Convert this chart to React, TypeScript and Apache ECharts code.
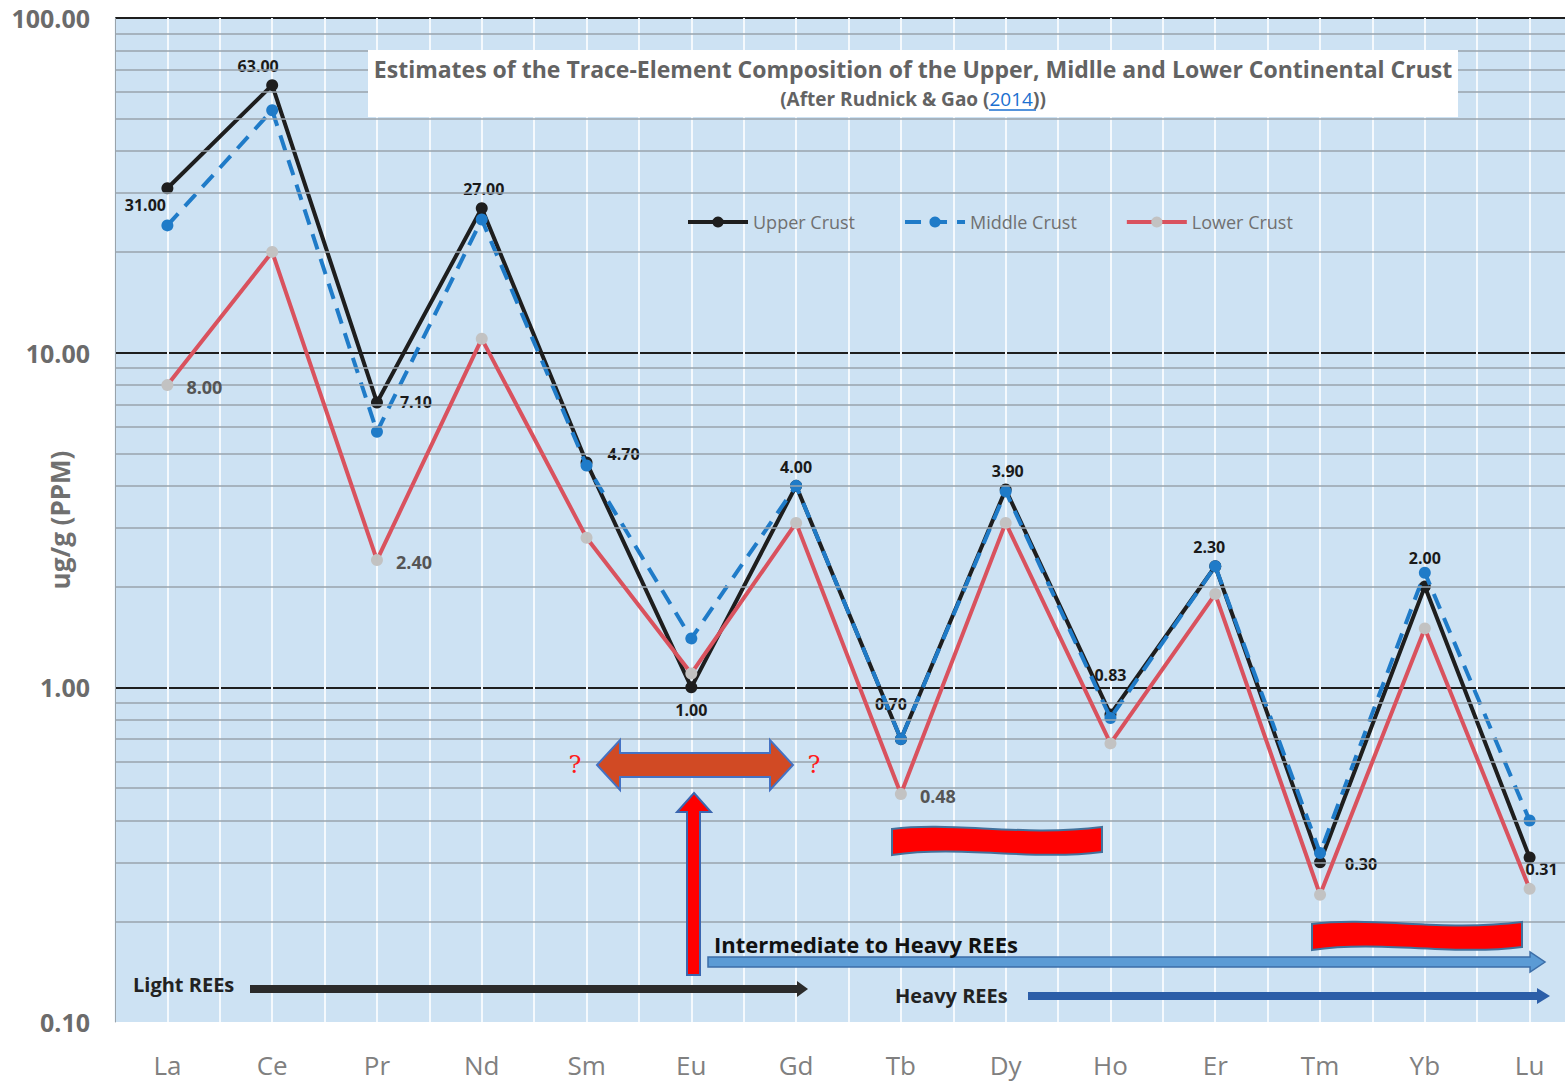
import React, { useEffect, useRef } from "react";
import * as echarts from "echarts";

const elements = ["La", "Ce", "Pr", "Nd", "Sm", "Eu", "Gd", "Tb", "Dy", "Ho", "Er", "Tm", "Yb", "Lu"];
const upperCrust = [31, 63, 7.1, 27, 4.7, 1.0, 4.0, 0.7, 3.9, 0.83, 2.3, 0.3, 2.0, 0.31];
const middleCrust = [24, 53, 5.8, 25, 4.6, 1.4, 4.0, 0.7, 3.85, 0.81, 2.3, 0.32, 2.2, 0.4];
const lowerCrust = [8, 20, 2.4, 11, 2.8, 1.1, 3.1, 0.48, 3.1, 0.68, 1.9, 0.24, 1.5, 0.25];
const lowerLabelled = [true, false, true, false, false, false, false, true, false, false, false, false, false, false];
const minorGridValues = [0.2, 0.3, 0.4, 0.5, 0.6, 0.7, 0.8, 0.9, 2, 3, 4, 5, 6, 7, 8, 9, 20, 30, 40, 50, 60, 70, 80, 90];

// label placement (style only)
const upperLabelPos: [string, number[]][] = [
  ["bottom", [-22, -2]],
  ["top", [-14, 0]],
  ["right", [12, 0]],
  ["top", [2, 0]],
  ["right", [10, -8]],
  ["bottom", [0, 4]],
  ["top", [0, 0]],
  ["top", [-10, -16]],
  ["top", [2, 0]],
  ["top", [0, -20]],
  ["top", [-6, 0]],
  ["right", [14, 2]],
  ["top", [0, -10]],
  ["bottom", [12, -8]],
];

const FONT = "Open Sans";

const wavePath = "M0,4 C60,-4 130,12 210,2 L210,27 C140,36 70,20 0,30 Z";

let registered = false;

export default function App() {
  const ref = useRef<HTMLDivElement>(null);
  useEffect(() => {
    if (!ref.current) return;
    if (!registered) {
      echarts.graphic.registerShape("wave", echarts.graphic.extendPath(wavePath, {}) as any);
      registered = true;
    }
    const chart = echarts.init(ref.current, undefined, { renderer: "svg" });
    const option: any = {
      animation: false,
      backgroundColor: "#ffffff",
      grid: {
        show: true,
        left: 115,
        top: 18,
        width: 1467,
        height: 1004,
        containLabel: false,
        outerBoundsMode: "none",
        backgroundColor: "#cde2f3",
        borderWidth: 0,
      },
      legend: {
        left: 681,
        top: 208,
        itemWidth: 60,
        itemHeight: 14,
        itemGap: 48,
        textStyle: { fontFamily: FONT, fontSize: 18, color: "#707070" },
        data: [
          { name: "Upper Crust", lineStyle: { width: 4 } },
          { name: "Middle Crust", lineStyle: { width: 4 } },
          { name: "Lower Crust", lineStyle: { width: 4 } },
        ],
      },
      xAxis: [
        {
          type: "category",
          data: elements,
          boundaryGap: true,
          axisLine: { show: false },
          axisTick: { show: false },
          splitLine: { show: false },
          axisLabel: { fontFamily: FONT, fontSize: 26, color: "#808080", margin: 30 },
        },
        {
          type: "category",
          position: "top",
          data: new Array(elements.length * 2).fill(""),
          boundaryGap: true,
          axisLine: { show: false },
          axisTick: { show: false },
          axisLabel: { show: false },
          splitLine: { show: true, interval: 0, lineStyle: { color: "#f4f9fd", width: 2 } },
        },
      ],
      yAxis: {
        type: "log",
        logBase: 10,
        min: 0.1,
        max: 100,
        splitNumber: 3,
        name: "ug/g (PPM)",
        nameLocation: "middle",
        nameGap: 42,
        nameRotate: 90,
        nameMoveOverlap: false,
        nameTextStyle: { fontFamily: FONT, fontSize: 26, fontWeight: "bold", color: "#707070" },
        axisLine: { show: true, lineStyle: { color: "#9aa3aa", width: 1 } },
        axisTick: { show: false },
        axisLabel: {
          fontFamily: FONT,
          fontSize: 25,
          fontWeight: "bold",
          color: "#6b6b6b",
          margin: 25,
          formatter: (v: number) => v.toFixed(2),
        },
        splitLine: {
          show: true,
          lineStyle: { color: ["transparent", "#1e1e1e", "#1e1e1e", "#1e1e1e"], width: 2 },
        },
      },
      series: [
        {
          name: "grid",
          type: "line",
          data: [],
          silent: true,
          markLine: {
            silent: true,
            symbol: "none",
            label: { show: false },
            lineStyle: { color: "#98a3ad", width: 1.5, type: "solid" },
            data: minorGridValues.map((v) => ({ yAxis: v })),
          },
        },
        {
          name: "Upper Crust",
          type: "line",
          data: upperCrust.map((v, i) => ({
            value: v,
            label: { position: upperLabelPos[i][0], offset: upperLabelPos[i][1] },
          })),
          symbol: "circle",
          symbolSize: 12,
          lineStyle: { color: "#1e1e1e", width: 4 },
          itemStyle: { color: "#1e1e1e" },
          label: {
            show: true,
            fontFamily: FONT,
            fontSize: 16,
            fontWeight: "bold",
            color: "#1a1a1a",
            textBorderWidth: 0,
            textBorderColor: "transparent",
            formatter: (p: any) => Number(p.value).toFixed(2),
          },
          z: 3,
        },
        {
          name: "Middle Crust",
          type: "line",
          data: middleCrust,
          symbol: "circle",
          symbolSize: 12,
          lineStyle: { color: "#1f7bc8", width: 4, type: [16, 10] },
          itemStyle: { color: "#1f7bc8" },
          z: 4,
        },
        {
          name: "Lower Crust",
          type: "line",
          data: lowerCrust.map((v, i) => ({
            value: v,
            label: { show: lowerLabelled[i] },
          })),
          symbol: "circle",
          symbolSize: 12,
          lineStyle: { color: "#d9525e", width: 4 },
          itemStyle: { color: "#c2c2c2" },
          label: {
            show: false,
            position: "right",
            offset: [8, 2],
            fontFamily: FONT,
            fontSize: 18,
            fontWeight: "bold",
            color: "#555555",
            textBorderWidth: 0,
            formatter: (p: any) => Number(p.value).toFixed(2),
          },
          z: 5,
        },
      ],
      graphic: [
        { type: "rect", shape: { x: 368, y: 50, width: 1090, height: 67 }, style: { fill: "#ffffff" }, z: 10 },
        {
          type: "text",
          x: 913,
          y: 69,
          z: 11,
          style: {
            text: "Estimates of the Trace-Element Composition of the Upper, Midlle and Lower Continental Crust",
            fontFamily: FONT,
            fontSize: 23,
            fontWeight: "bold",
            fill: "#636363",
            align: "center",
            verticalAlign: "middle",
          },
        },
        {
          type: "text",
          x: 913,
          y: 99,
          z: 11,
          style: {
            text: "{a|(After Rudnick & Gao (}{b|2014}{a|))}",
            align: "center",
            verticalAlign: "middle",
            rich: {
              a: { fontFamily: FONT, fontSize: 19, fontWeight: "bold", fill: "#636363", color: "#636363" },
              b: { fontFamily: FONT, fontSize: 19, fill: "#1a6fd0", color: "#1a6fd0" },
            },
          },
        },
        { type: "line", shape: { x1: 989, y1: 110, x2: 1036, y2: 110 }, style: { stroke: "#1a6fd0", lineWidth: 1.5 }, z: 11 },
        {
          type: "polygon",
          z: 10,
          shape: {
            points: [[597, 765], [620, 740], [620, 753], [770, 753], [770, 740], [793, 765], [770, 790], [770, 777], [620, 777], [620, 790]],
          },
          style: { fill: "#d14a24", stroke: "#4472c4", lineWidth: 2 },
        },
        { type: "text", x: 575, y: 765, z: 11, style: { text: "?", fontFamily: "DejaVu Serif", fontSize: 24, fill: "#ff1a1a", align: "center", verticalAlign: "middle" } },
        { type: "text", x: 814, y: 765, z: 11, style: { text: "?", fontFamily: "DejaVu Serif", fontSize: 24, fill: "#ff1a1a", align: "center", verticalAlign: "middle" } },
        {
          type: "polygon",
          z: 10,
          shape: { points: [[694, 793], [711, 812], [700, 812], [700, 975], [687, 975], [687, 812], [677, 812]] },
          style: { fill: "#ff0000", stroke: "#3a66b0", lineWidth: 2 },
        },
        { type: "wave", x: 892, y: 825, z: 10, style: { fill: "#ff0000", stroke: "#41719c", lineWidth: 2 } },
        { type: "wave", x: 1312, y: 920, z: 10, style: { fill: "#ff0000", stroke: "#41719c", lineWidth: 2 } },
        {
          type: "polygon",
          z: 10,
          shape: { points: [[708, 957], [1530, 957], [1530, 952], [1545, 962], [1530, 972], [1530, 967], [708, 967]] },
          style: { fill: "#5b9bd5", stroke: "#3c6ea8", lineWidth: 1.5 },
        },
        {
          type: "text",
          x: 714,
          y: 944,
          z: 11,
          style: { text: "Intermediate to Heavy REEs", fontFamily: FONT, fontSize: 22, fontWeight: "bold", fill: "#111111", verticalAlign: "middle" },
        },
        {
          type: "polygon",
          z: 10,
          shape: { points: [[250, 985], [797, 985], [797, 981], [808, 989], [797, 997], [797, 993], [250, 993]] },
          style: { fill: "#2b2b2b" },
        },
        {
          type: "text",
          x: 133,
          y: 984,
          z: 11,
          style: { text: "Light REEs", fontFamily: FONT, fontSize: 20, fontWeight: "bold", fill: "#222222", verticalAlign: "middle" },
        },
        {
          type: "polygon",
          z: 10,
          shape: { points: [[1028, 992], [1537, 992], [1537, 988], [1550, 996], [1537, 1004], [1537, 1000], [1028, 1000]] },
          style: { fill: "#2c5ea8" },
        },
        {
          type: "text",
          x: 895,
          y: 995,
          z: 11,
          style: { text: "Heavy REEs", fontFamily: FONT, fontSize: 20, fontWeight: "bold", fill: "#222222", verticalAlign: "middle" },
        },
      ],
    };
    chart.setOption(option);
    return () => chart.dispose();
  }, []);
  return <div ref={ref} style={{ position: "fixed", left: 0, top: 0, width: 1565, height: 1083 }} />;
}
